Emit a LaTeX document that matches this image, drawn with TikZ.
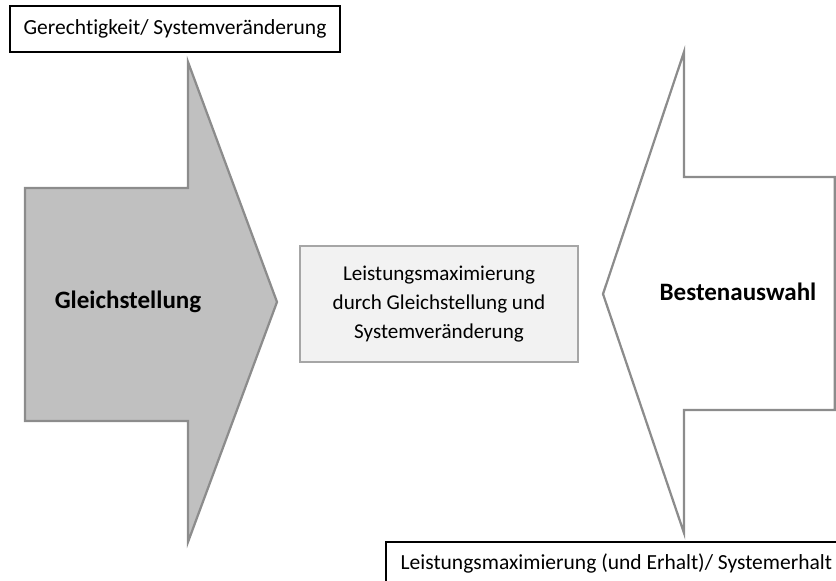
\documentclass[tikz,border=0pt]{standalone}
\usepackage{fontspec}
\setmainfont{Carlito}[Ligatures=NoCommon]
\usepackage{tikz}
\usetikzlibrary{positioning}

\definecolor{arrowgray}{HTML}{C0C0C0}
\definecolor{edgegray}{HTML}{8C8C8C}
\definecolor{boxgray}{HTML}{F2F2F2}
\definecolor{boxedge}{HTML}{A6A6A6}

\begin{document}
\begin{tikzpicture}[line join=miter,
	labelbox/.style={draw=black, line width=1.3pt, align=center, font=\fontsize{15.3}{18}\selectfont},
	arrowline/.style={draw=edgegray, line width=1.6pt},
	bigtext/.style={font=\fontsize{17.8}{21}\selectfont\bfseries}]

\useasboundingbox (0,0) rectangle (20.9,14.525);

% left arrow (filled)
\draw[arrowline, fill=arrowgray] (0.625,9.825) -- (4.7,9.825) -- (4.7,12.975) -- (6.925,6.975)
	-- (4.7,0.975) -- (4.7,4.0) -- (0.625,4.0) -- cycle;
\node (gleich) at (3.2, 6.975) [bigtext] {Gleichstellung};

% right arrow (empty)
\draw[arrowline, fill=white] (15.075,7.175) -- (17.1,13.225) -- (17.1,10.1) -- (20.87,10.1)
	-- (20.87,4.275) -- (17.1,4.275) -- (17.1,1.2) -- cycle;
\node (besten) at (18.45, 7.22) [bigtext] {Bestenauswahl};

% middle box
\node (mitte) at (10.975, 6.925) [draw=boxedge, line width=1.3pt, fill=boxgray, align=center,
	minimum width=6.95cm, minimum height=2.9cm, font=\fontsize{15}{20.6}\selectfont]
	{Leistungsmaximierung\\durch Gleichstellung und\\Systemveränderung};

\node (oben) at (4.375, 13.8) [labelbox, minimum width=8.25cm, minimum height=1.15cm]
	{Gerechtigkeit/ Systemveränderung};
\node (unten) at (15.41, -0.1) [labelbox, minimum width=11.5cm, minimum height=2.15cm]
	{};
\node (untentext) at (15.41, 0.45) [font=\fontsize{15.3}{18}\selectfont]
	{Leistungsmaximierung (und Erhalt)/ Systemerhalt};

\end{tikzpicture}
\end{document}
